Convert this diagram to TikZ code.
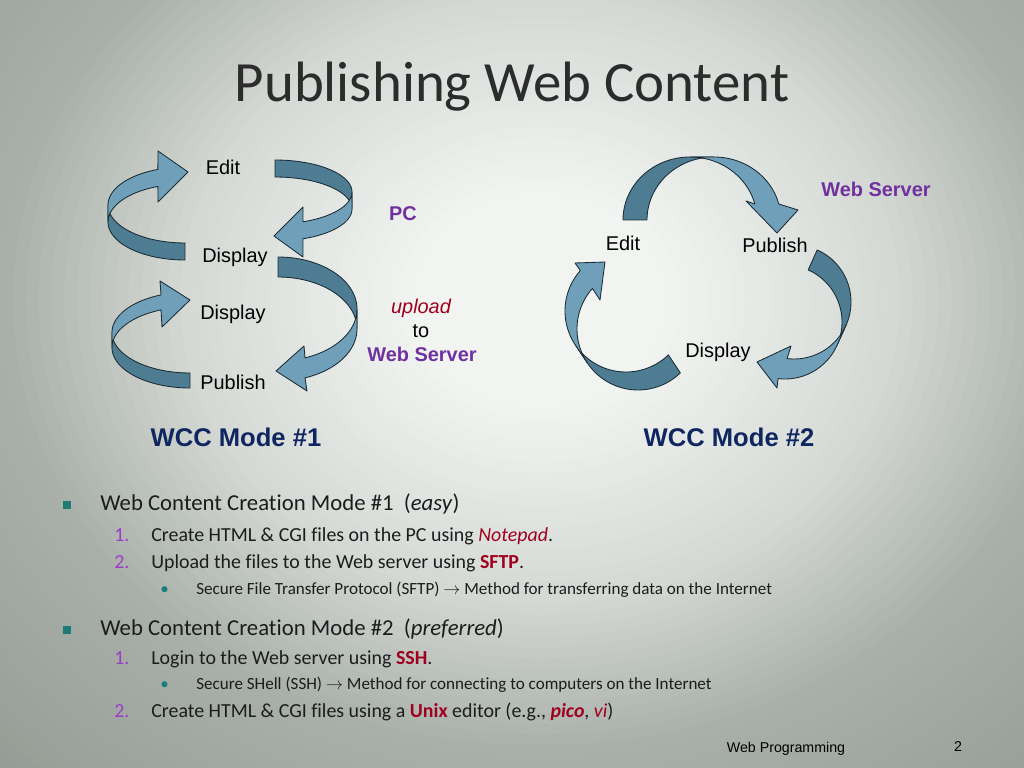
\documentclass[tikz,border=0pt]{standalone}
\usepackage{fontspec}
\setmainfont{Carlito}[Ligatures=NoCommon]
\newfontfamily\arialf{Liberation Sans}
\definecolor{bgIn}{HTML}{F1F4F1}
\definecolor{bgOut}{HTML}{8A938B}
\definecolor{ribL}{HTML}{70A0B9}
\definecolor{ribD}{HTML}{4E7D93}
\definecolor{ribE}{HTML}{1B2C35}
\definecolor{purp}{HTML}{7030A0}
\definecolor{dred}{HTML}{A0001E}
\definecolor{navy}{HTML}{0F2660}
\definecolor{numc}{HTML}{9B3DC8}
\definecolor{tealc}{HTML}{1E7B78}
\definecolor{titc}{HTML}{2C2C2C}
\definecolor{bodyc}{HTML}{1C1C1C}
% back band between ellipse E1 (centre #1,#2) and E2 (centre #5,#6), angles #7..#8
\newcommand\ribB[8]{\filldraw[ribback] plot[domain=0:1,samples=40] ({#1+#3*cos(#7+(#8-#7)*\x)},{#2+#4*sin(#7+(#8-#7)*\x)}) -- plot[domain=0:1,samples=40] ({#5+#3*cos(#8+(#7-#8)*\x)},{#6+#4*sin(#8+(#7-#8)*\x)}) -- cycle;}
% front band plus head (#9 = head points)
\newcommand\ribF[9]{\filldraw[ribfront] plot[domain=0:1,samples=40] ({#1+#3*cos(#7+(#8-#7)*\x)},{#2+#4*sin(#7+(#8-#7)*\x)}) -- #9 -- plot[domain=0:1,samples=40] ({#5+#3*cos(#8+(#7-#8)*\x)},{#6+#4*sin(#8+(#7-#8)*\x)}) -- cycle;}
\begin{document}
\begin{tikzpicture}[x=0.703125pt,y=-0.703125pt,
  ribback/.style={fill=ribD,draw=ribE,line width=0.6pt,line join=round},
  ribfront/.style={fill=ribL,draw=ribE,line width=0.6pt,line join=round},
  lbl/.style={font=\arialf\fontsize{14}{16}\selectfont,text=black,inner sep=0pt,anchor=base},
  plbl/.style={font=\arialf\bfseries\fontsize{14}{16}\selectfont,text=purp,inner sep=0pt,anchor=base},
  wcc/.style={font=\arialf\bfseries\fontsize{18}{20}\selectfont,text=navy,inner sep=0pt,anchor=base},
  title/.style={font=\fontsize{40}{44}\selectfont,text=titc,inner sep=0pt,anchor=base},
  bodyA/.style={font=\fontsize{16}{18}\selectfont,text=bodyc,inner sep=0pt,anchor=base west},
  bodyB/.style={font=\fontsize{14}{16}\selectfont,text=bodyc,inner sep=0pt,anchor=base west},
  bodyC/.style={font=\fontsize{12}{14}\selectfont,text=bodyc,inner sep=0pt,anchor=base west},
  numB/.style={font=\fontsize{14}{16}\selectfont,text=numc,inner sep=0pt,anchor=base west},
  dotC/.style={font=\fontsize{12}{14}\selectfont,text=tealc,inner sep=0pt,anchor=base west},
  sqb/.style={fill=tealc,draw=none,minimum size=5pt,inner sep=0pt},
  foot/.style={font=\arialf\fontsize{10}{12}\selectfont,text=black,inner sep=0pt,anchor=base}]
\useasboundingbox (0,0) rectangle (1024,768);
% ---------- background: stepped radial gradient ----------
\begin{scope}
\clip (0,0) rectangle (1024,768);
\fill[bgOut] (0,0) rectangle (1024,768);
\foreach \i in {0,...,69}{
  \pgfmathsetmacro\rr{1-\i/70}
  \pgfmathsetmacro\pp{100*(\rr<0.15 ? 0 : (\rr<0.4 ? (\rr-0.15)/0.25*0.28 : (\rr<0.6 ? 0.28+(\rr-0.4)/0.2*0.42 : (\rr<0.9 ? 0.70+(\rr-0.6)/0.3*0.22 : 0.92+(\rr-0.9)/0.1*0.08))))}
  \fill[bgOut!\pp!bgIn] (540,300) ellipse [x radius={900*\rr}, y radius={760*\rr}];
}
\end{scope}

% ---------- left diagram (WCC Mode #1) ----------
% L1 Display -> Edit
\ribB{185}{205}{77}{38}{185}{222}{90}{180}
\ribF{185}{205}{77}{38}{185}{222}{180}{249.4}{(158,151) -- (188,172) -- (158,202)}
% L2 Edit -> Display
\ribB{275}{192}{77}{32}{275}{209}{270}{360}
\ribF{275}{192}{77}{32}{275}{209}{360}{428.7}{(303,207) -- (274,236) -- (303,257)}
% L3 Publish -> Display
\ribB{190}{332.5}{78}{40.5}{190}{347.5}{90}{180}
\ribF{190}{332.5}{78}{40.5}{190}{347.5}{180}{248.2}{(160,281) -- (190,300) -- (162,327)}
% L4 Display -> Publish
\ribB{278}{309}{79}{52}{278}{329}{270}{360}
\ribF{278}{309}{79}{52}{278}{329}{360}{430}{(304,346) -- (276,371) -- (307,391)}

\node[lbl] (edit1) at (223,175) {Edit};
\node[lbl] (disp1) at (235,263) {Display};
\node[lbl] (disp2) at (233,319) {Display};
\node[lbl] (pub1) at (233,389) {Publish};
\node[plbl] (pc) at (403,221) {PC};
\node[lbl,font=\arialf\itshape\fontsize{14}{16}\selectfont,text=dred] (upl) at (421,314) {upload};
\node[lbl] (to) at (421,338) {to};
\node[plbl] (ws1) at (422,361) {Web Server};
\node[wcc] (m1) at (236,446) {WCC Mode \#1};

% ---------- right diagram (WCC Mode #2) ----------
% R1 Edit -> Publish
\ribB{690}{220}{67}{63}{714}{220}{180}{270}
\ribF{690}{220}{67}{63}{714}{220}{270}{345.3}{(746,201) -- (777,233) -- (798,210)}
% R2 Publish -> Display
\ribB{785}{322}{57}{57}{794}{302}{294}{384}
\ribF{785}{322}{57}{57}{794}{302}{384}{457}{(777,388) -- (757,362) -- (791,346)}
% R3 Display -> Edit
\ribB{626}{311}{61}{61}{638}{329}{46}{146.5}
\ribF{626}{311}{61}{61}{638}{329}{146.5}{221.6}{(575,263) -- (605,262) -- (600,300)}

\node[lbl] (edit2) at (623,251) {Edit};
\node[lbl] (pub2) at (775,253) {Publish};
\node[lbl] (disp3) at (718,357) {Display};
\node[plbl] (ws2) at (876,197) {Web Server};
\node[wcc] (m2) at (729,446) {WCC Mode \#2};

% ---------- title ----------
\node[title] (ttl) at (512,102) {Publishing Web Content};

% ---------- bullet list ----------
\node[sqb] (sq1) at (67,505) {};
\node[bodyA] (a1) at (100,510) {Web Content Creation Mode \#1~~(\textit{easy})};
\node[numB] (n11) at (114,541) {1.};
\node[bodyB] (b11) at (151,541) {Create HTML \& CGI files on the PC using \textcolor{dred}{\textit{Notepad}}.};
\node[numB] (n12) at (114,568) {2.};
\node[bodyB] (b12) at (151,568) {Upload the files to the Web server using \textcolor{dred}{\textbf{SFTP}}.};
\node[dotC] (d11) at (160,594) {•};
\node[bodyC] (c11) at (196,594) {Secure File Transfer Protocol (SFTP) $\rightarrow$ Method for transferring data on the Internet};

\node[sqb] (sq2) at (67,630) {};
\node[bodyA] (a2) at (100,635) {Web Content Creation Mode \#2~~(\textit{preferred})};
\node[numB] (n21) at (114,664) {1.};
\node[bodyB] (b21) at (151,664) {Login to the Web server using \textcolor{dred}{\textbf{SSH}}.};
\node[dotC] (d21) at (160,689) {•};
\node[bodyC] (c21) at (196,689) {Secure SHell (SSH) $\rightarrow$ Method for connecting to computers on the Internet};
\node[numB] (n22) at (114,717) {2.};
\node[bodyB] (b22) at (151,717) {Create HTML \& CGI files using a \textcolor{dred}{\textbf{Unix}} editor (e.g., \textcolor{dred}{\textbf{\textit{pico}}}, \textcolor{dred}{\textit{vi}})};

% ---------- footer ----------
\node[foot] (ft) at (786,752) {Web Programming};
\node[foot] (pg) at (958,751) {2};
\end{tikzpicture}
\end{document}
